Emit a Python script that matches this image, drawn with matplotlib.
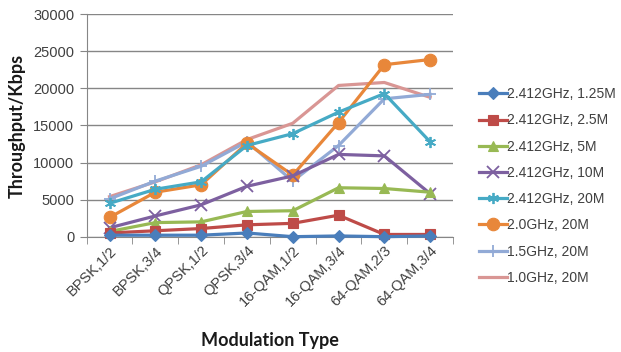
import matplotlib
matplotlib.use("Agg")
import matplotlib.pyplot as plt
import numpy as np

categories = ["BPSK,1/2", "BPSK,3/4", "QPSK,1/2", "QPSK,3/4",
              "16-QAM,1/2", "16-QAM,3/4", "64-QAM,2/3", "64-QAM,3/4"]

s_2412_125 = [200, 200, 200, 500, 0, 100, 0, 100]
s_2412_25 = [500, 800, 1100, 1600, 1800, 2900, 300, 300]
s_2412_5 = [700, 1900, 2000, 3400, 3500, 6600, 6500, 6000]
s_2412_10 = [1200, 2800, 4300, 6800, 8200, 11100, 10900, 5800]
s_2412_20 = [4500, 6400, 7400, 12300, 13900, 16800, 19300, 12800]
s_20_20 = [2600, 6000, 7000, 12600, 8300, 15400, 23200, 23900]
s_15_20 = [5100, 7500, 9500, 12800, 7500, 12300, 18600, 19200]
s_10_20 = [5400, 7400, 9700, 13100, 15300, 20400, 20800, 18800]

labels = ["2.412GHz, 1.25M", "2.412GHz, 2.5M", "2.412GHz, 5M",
          "2.412GHz, 10M", "2.412GHz, 20M", "2.0GHz, 20M",
          "1.5GHz, 20M", "1.0GHz, 20M"]

series = [s_2412_125, s_2412_25, s_2412_5, s_2412_10,
          s_2412_20, s_20_20, s_15_20, s_10_20]
colors = ["#4A7EBB", "#BE4B48", "#98B954", "#7D60A0",
          "#46AAC5", "#E8873A", "#92AAD6", "#D99694"]
markers = ["D", "s", "^", "x", (6, 2, 0), "o", "+", None]
msizes = [6, 7.5, 7, 8, 8, 9, 9, 0]

fig = plt.figure(figsize=(6.21, 3.52), dpi=100)
ax = fig.add_axes([0.1396, 0.3276, 0.5899, 0.6318])

x = np.arange(len(categories))
order = [7, 6, 5, 4, 3, 2, 1, 0]
lines = {}
for i in order:
    thin = markers[i] in ("x", "+") or isinstance(markers[i], tuple)
    ln, = ax.plot(x, series[i], color=colors[i], lw=2.3,
                  marker=markers[i], markersize=msizes[i],
                  markeredgewidth=1.3 if thin else 0.8,
                  markeredgecolor=colors[i], markerfacecolor=colors[i],
                  clip_on=False, zorder=3 + (8 - i) * 0.01, label=labels[i])
    lines[i] = ln

ax.set_xlim(-0.5, len(categories) - 0.5)
ax.set_ylim(0, 30000)
ax.set_yticks(np.arange(0, 30001, 5000))
ax.yaxis.grid(True, color="#868686", lw=1.0)
ax.set_axisbelow(True)

for side in ("top", "right"):
    ax.spines[side].set_visible(False)
ax.spines["left"].set_color("#868686")
ax.spines["bottom"].set_color("#868686")

ax.set_xticks(x)
ax.set_xticks(np.arange(-0.5, len(categories), 1.0), minor=True)
ax.tick_params(axis="x", which="major", length=0, pad=5)
ax.tick_params(axis="x", which="minor", length=5, color="#868686", direction="out")
ax.tick_params(axis="y", length=5, color="#868686", direction="out", pad=4)

tick_font = dict(family="Liberation Sans", size=10.5, color="#404040")
ax.set_xticklabels(categories, rotation=45, ha="right", rotation_mode="anchor", **tick_font)
for t in ax.get_yticklabels():
    t.set_fontfamily("Liberation Sans")
    t.set_fontsize(10.5)
    t.set_color("#404040")

title_font = dict(family="Lato", size=13, weight="bold", color="#1a1a1a")
ax.set_ylabel("Throughput/Kbps", labelpad=5, **title_font)
ax.set_xlabel("Modulation Type", labelpad=16, **title_font)

handles = [lines[i] for i in range(8)]
leg = fig.legend(handles, labels, loc="upper left", bbox_to_anchor=(0.762, 0.768),
                 frameon=False, handlelength=2.0, handletextpad=0.05,
                 labelspacing=0.88, borderaxespad=0,
                 prop=dict(family="Liberation Sans", size=10))
for t in leg.get_texts():
    t.set_color("#404040")

fig.savefig("out.png", dpi=100)
